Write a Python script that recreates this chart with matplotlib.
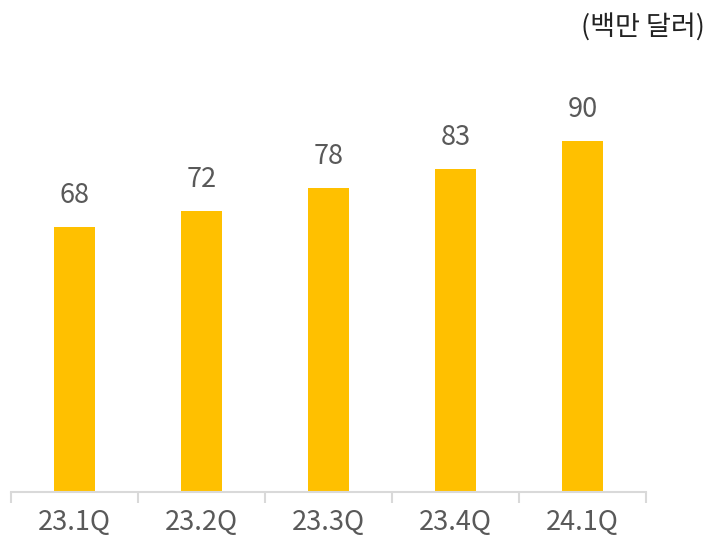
import numpy as np
import matplotlib.pyplot as plt

plt.rcParams['font.family'] = ['Noto Sans CJK KR', 'DejaVu Sans']

# 분기별 값 (백만 달러)
quarters = ['23.1Q', '23.2Q', '23.3Q', '23.4Q', '24.1Q']
values = [68, 72, 78, 83, 90]

bar_color = '#FFC000'
text_color = '#595959'
axis_color = '#D9D9D9'

fig = plt.figure(figsize=(7.09, 5.53), dpi=100)
ax = fig.add_axes([0.0155, 0.110, 0.8956, 0.705])

x = np.arange(len(quarters))
bars = ax.bar(x, values, width=0.32, color=bar_color)

# 막대 위 값 표시
for xi, v in zip(x, values):
    ax.annotate(str(v), (xi, v), xytext=(0, 13), textcoords='offset points',
                ha='center', va='bottom', fontsize=19.5, color=text_color)

ax.set_xlim(-0.5, len(quarters) - 0.5)
ax.set_ylim(0, 100)

for side in ['top', 'right', 'left']:
    ax.spines[side].set_visible(False)
ax.spines['bottom'].set_color(axis_color)
ax.spines['bottom'].set_linewidth(1.5)

ax.set_yticks([])
ax.set_xticks(x)
ax.set_xticklabels(quarters, fontsize=19.5, color=text_color)
ax.tick_params(axis='x', which='major', length=0, pad=12)
ax.set_xticks(np.arange(-0.5, len(quarters)), minor=True)
ax.tick_params(axis='x', which='minor', length=8, width=1.5, color=axis_color)

fig.text(0.994, 0.952, '(백만 달러)', ha='right', va='center',
         fontsize=19.5, color='#222222')

fig.savefig('out.png', dpi=100)
